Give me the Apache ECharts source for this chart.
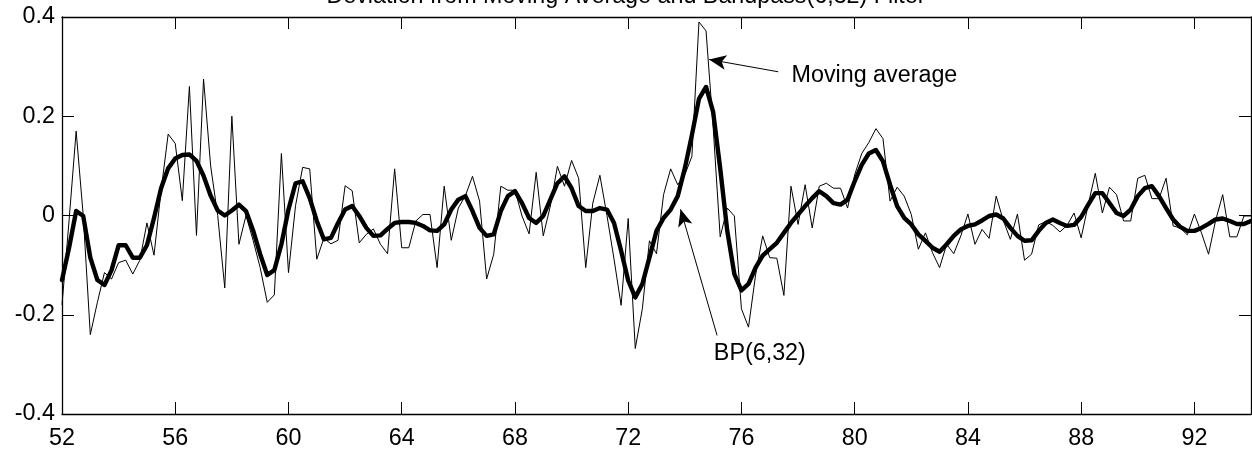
<!DOCTYPE html>
<html>
<head>
<meta charset="utf-8">
<script src="https://cdn.jsdelivr.net/npm/echarts@6/dist/echarts.min.js"></script>
<style>
html,body{margin:0;padding:0;background:#fff;}
#c{width:1252px;height:455px;}
</style>
</head>
<body>
<div id="c"></div>
<script>
// Quarterly observations, starting 1952:1
const startYear = 52;
const quarterStep = 0.25;
const movingAverageDev = [
 -0.18,-0.01,0.17,0.0,-0.24,-0.175,-0.115,-0.128,-0.095,-0.09,
 -0.118,-0.09,-0.015,-0.08,0.05,0.164,0.145,0.03,0.26,-0.04,
 0.275,0.1,0.0,-0.146,0.2,-0.058,0.0,-0.05,-0.105,-0.175,
 -0.16,0.125,-0.115,0.02,0.097,0.094,-0.088,-0.046,-0.057,-0.05,
 0.06,0.05,-0.055,-0.038,-0.027,-0.058,-0.077,0.094,-0.065,-0.065,
 -0.011,0.002,0.002,-0.105,0.059,-0.05,0.015,0.04,0.079,0.029,
 -0.128,-0.078,0.059,0.051,0.051,-0.001,-0.037,0.087,-0.041,0.019,
 0.099,0.059,0.111,0.075,-0.105,0.025,0.081,0.0,-0.088,-0.181,
 -0.006,-0.268,-0.188,-0.051,-0.077,0.042,0.094,0.062,0.082,0.119,
 0.39,0.372,0.179,-0.043,0.015,-0.001,-0.188,-0.225,-0.12,-0.041,
 -0.085,-0.086,-0.161,0.059,-0.018,0.062,-0.025,0.059,0.065,0.055,
 0.055,0.015,0.082,0.125,0.147,0.175,0.155,0.029,0.057,0.039,
 0.002,-0.068,-0.035,-0.075,-0.105,-0.058,-0.077,-0.041,0.003,-0.058,
 -0.028,-0.046,0.039,-0.01,-0.048,0.003,-0.09,-0.078,-0.019,-0.012,
 -0.02,-0.033,-0.02,0.005,-0.045,0.022,0.085,0.005,0.057,0.042,
 -0.011,-0.011,0.075,0.081,0.034,0.034,0.075,-0.021,-0.025,-0.039,
 0.003,-0.035,-0.078,-0.01,0.042,-0.043,-0.043,-0.001,-0.001
];
const bandPass = [
 -0.13,-0.065,0.009,-0.001,-0.085,-0.13,-0.14,-0.11,-0.06,-0.06,
 -0.085,-0.085,-0.06,-0.005,0.055,0.095,0.115,0.122,0.123,0.11,
 0.08,0.04,0.01,0.0,0.01,0.022,0.009,-0.03,-0.078,-0.12,
 -0.11,-0.058,0.012,0.065,0.069,0.035,-0.011,-0.048,-0.045,-0.015,
 0.012,0.019,-0.001,-0.025,-0.041,-0.04,-0.027,-0.015,-0.013,-0.013,
 -0.015,-0.021,-0.03,-0.031,-0.018,0.012,0.032,0.039,0.009,-0.025,
 -0.041,-0.038,0.009,0.039,0.049,0.025,-0.005,-0.015,-0.001,0.032,
 0.065,0.079,0.055,0.019,0.009,0.009,0.015,0.012,-0.015,-0.071,
 -0.131,-0.165,-0.138,-0.085,-0.031,-0.005,0.012,0.039,0.095,0.162,
 0.235,0.259,0.209,0.095,-0.031,-0.118,-0.151,-0.138,-0.105,-0.081,
 -0.068,-0.055,-0.035,-0.015,0.002,0.019,0.035,0.049,0.039,0.025,
 0.022,0.032,0.069,0.102,0.125,0.132,0.109,0.062,0.019,-0.005,
 -0.018,-0.038,-0.051,-0.065,-0.073,-0.058,-0.041,-0.028,-0.021,-0.018,
 -0.01,-0.001,0.002,-0.006,-0.025,-0.041,-0.051,-0.05,-0.031,-0.015,
 -0.008,-0.015,-0.021,-0.019,-0.003,0.022,0.045,0.045,0.025,0.005,
 -0.001,0.012,0.039,0.055,0.059,0.039,0.015,-0.008,-0.023,-0.031,
 -0.031,-0.025,-0.017,-0.008,-0.006,-0.011,-0.017,-0.017,-0.011
];
const xTicks = [52,56,60,64,68,72,76,80,84,88,92];
const yTicks = [-0.4,-0.2,0,0.2,0.4];
const titleText = 'Deviation from Moving Average and Bandpass(6,32) Filter';
const labelMA = 'Moving average';
const labelBP = 'BP(6,32)';

const maData = movingAverageDev.map((v,i)=>[startYear+i*quarterStep, v]);
const bpData = bandPass.map((v,i)=>[startYear+i*quarterStep, v]);

const FONT = 'Liberation Sans, Arial, Helvetica, sans-serif';
const FS = 23.3;
const chart = echarts.init(document.getElementById('c'), null, {renderer:'canvas'});
const axisLineStyle = {color:'#000', width:1.3};
const xBase = {
  type:'value', min:52, max:94, interval:4,
  axisLine:{show:true, onZero:false, lineStyle:axisLineStyle},
  axisTick:{show:true, inside:true, length:12, customValues:xTicks, lineStyle:{color:'#000', width:1}},
  splitLine:{show:false}
};
const yBase = {
  type:'value', min:-0.4, max:0.4, interval:0.2,
  axisLine:{show:true, onZero:false, lineStyle:axisLineStyle},
  axisTick:{show:true, inside:true, length:12, lineStyle:{color:'#000', width:1}},
  splitLine:{show:false}
};
chart.setOption({
  animation:false,
  backgroundColor:'#fff',
  title:{text:titleText, left:'center', top:-20, textStyle:{fontFamily:FONT, fontSize:FS, fontWeight:'normal', color:'#000'}},
  grid:{left:62, top:17, width:1189, height:397, containLabel:false},
  xAxis:[
    Object.assign({}, xBase, {position:'bottom', axisLabel:{show:true, customValues:xTicks, margin:13, color:'#000', fontFamily:FONT, fontSize:FS}}),
    Object.assign({}, xBase, {position:'top', axisLabel:{show:false}})
  ],
  yAxis:[
    Object.assign({}, yBase, {position:'left', axisLabel:{show:true, customValues:yTicks, margin:7, color:'#000', fontFamily:FONT, fontSize:FS, formatter:v=>String(Math.round(v*10)/10)}}),
    Object.assign({}, yBase, {position:'right', axisLabel:{show:false}})
  ],
  series:[
    {
      name:labelMA, type:'line', data:maData, xAxisIndex:0, yAxisIndex:0,
      symbol:'none', lineStyle:{color:'#000', width:1}, z:2,
      markLine:{
        silent:true, symbol:['none','arrow'], symbolSize:[11,17],
        lineStyle:{color:'#000', width:1, type:'solid'}, label:{show:false},
        data:[
          [{coord:[77.30,0.2896]},{coord:[74.86,0.3145]}],
          [{coord:[75.14,-0.2417]},{coord:[73.85,0.0125]}]
        ]
      },
      markPoint:{
        silent:true, symbol:'circle', symbolSize:0,
        label:{show:true, color:'#000', fontFamily:FONT, fontSize:FS},
        data:[
          {coord:[77.77,0.282], label:{formatter:labelMA, position:'right', distance:0}},
          {coord:[76.65,-0.278], label:{formatter:labelBP, position:'inside'}}
        ]
      }
    },
    {
      name:labelBP, type:'line', data:bpData, xAxisIndex:0, yAxisIndex:0,
      symbol:'none', lineStyle:{color:'#000', width:4.4, join:'round', cap:'round'}, z:3
    }
  ]
});
</script>
</body>
</html>
